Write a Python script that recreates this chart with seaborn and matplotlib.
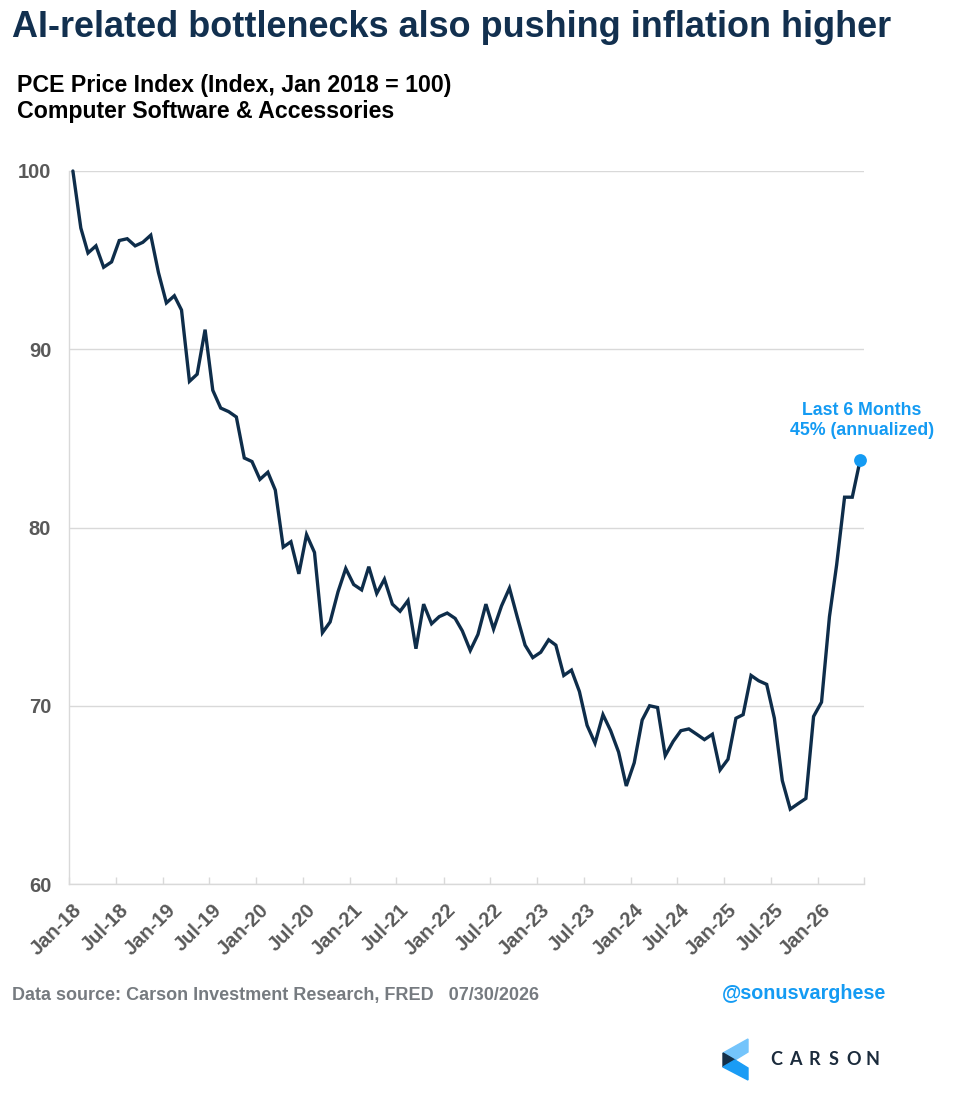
import numpy as np
import pandas as pd
import seaborn as sns
import matplotlib.pyplot as plt
from matplotlib.patches import Polygon
from matplotlib.transforms import ScaledTranslation

# PCE price index, computer software & accessories (Jan 2018 = 100), monthly
pce_index = [
    100.0, 96.8, 95.4, 95.8, 94.6, 94.9, 96.1, 96.2, 95.8, 96.0, 96.4, 94.3,  # 2018
    92.6, 93.0, 92.2, 88.2, 88.6, 91.1, 87.7, 86.7, 86.5, 86.2, 83.9, 83.7,   # 2019
    82.7, 83.1, 82.1, 78.9, 79.2, 77.4, 79.6, 78.6, 74.1, 74.7, 76.4, 77.7,   # 2020
    76.8, 76.5, 77.8, 76.3, 77.1, 75.7, 75.3, 75.9, 73.2, 75.7, 74.6, 75.0,   # 2021
    75.2, 74.9, 74.2, 73.1, 74.0, 75.7, 74.3, 75.6, 76.6, 75.0, 73.4, 72.7,   # 2022
    73.0, 73.7, 73.4, 71.7, 72.0, 70.8, 68.9, 67.9, 69.5, 68.6, 67.4, 65.5,   # 2023
    66.8, 69.2, 70.0, 69.9, 67.2, 68.0, 68.6, 68.7, 68.4, 68.1, 68.4, 66.4,   # 2024
    67.0, 69.3, 69.5, 71.7, 71.4, 71.2, 69.3, 65.8, 64.2, 64.5, 64.8, 69.4,   # 2025
    70.2, 75.0, 77.9, 81.7, 81.7, 83.8,                                       # 2026
]
start_month = "2018-01-01"

tick_labels = ["Jan-18", "Jul-18", "Jan-19", "Jul-19", "Jan-20", "Jul-20",
               "Jan-21", "Jul-21", "Jan-22", "Jul-22", "Jan-23", "Jul-23",
               "Jan-24", "Jul-24", "Jan-25", "Jul-25", "Jan-26", ""]
y_ticks = [60, 70, 80, 90, 100]

title = "AI-related bottlenecks also pushing inflation higher"
subtitle_1 = "PCE Price Index (Index, Jan 2018 = 100)"
subtitle_2 = "Computer Software & Accessories"
note_text = "Last 6 Months\n45% (annualized)"
source_text = "Data source: Carson Investment Research, FRED   07/30/2026"
handle_text = "@sonusvarghese"

NAVY = "#0e2d4a"
TITLE_NAVY = "#12304f"
BLUE = "#149bf3"
GRID = "#d9d9d9"
TICK_GRAY = "#595959"

# month stamps sit mid-month on a date axis
dates = pd.date_range(start_month, periods=len(pce_index), freq="MS") + pd.Timedelta(days=14)
df = pd.DataFrame({"date": dates, "value": pce_index})
tick_dates = pd.date_range(start_month, periods=len(tick_labels), freq="6MS")

sns.set_theme(style="white")
plt.rcParams["font.family"] = ["Liberation Sans", "DejaVu Sans"]

W, H = 956, 1100
fig = plt.figure(figsize=(W / 100, H / 100), dpi=100)
ax = fig.add_axes([69.3 / W, 1 - 884 / H, (864.3 - 69.3) / W, (884 - 171) / H])

sns.lineplot(data=df, x="date", y="value", color=NAVY, linewidth=2.4, ax=ax,
             clip_on=False, solid_joinstyle="miter")
sns.scatterplot(data=df.tail(1), x="date", y="value", color=BLUE, s=85,
                edgecolor=BLUE, linewidth=0, ax=ax, clip_on=False, zorder=5)

last = df.iloc[-1]
ax.annotate(note_text, xy=(last["date"], last["value"]), xytext=(1, 15),
            textcoords="offset points", ha="center", va="bottom", color=BLUE,
            fontsize=12.8, fontweight="bold", linespacing=1.2, annotation_clip=False)

ax.set_xlim(tick_dates[0], tick_dates[-1])
ax.set_ylim(60, 100)
ax.set_xlabel("")
ax.set_ylabel("")

ax.set_yticks(y_ticks)
ax.set_yticklabels([str(v) for v in y_ticks])
ax.tick_params(axis="y", length=0, pad=13, labelsize=14.5, labelcolor=TICK_GRAY)
for lab in ax.get_yticklabels():
    lab.set_fontweight("bold")

ax.set_xticks(tick_dates)
ax.set_xticklabels(tick_labels, rotation=45, ha="right", rotation_mode="anchor")
ax.tick_params(axis="x", direction="in", length=5, width=1, color=GRID, pad=12,
               labelsize=14.5, labelcolor=TICK_GRAY, bottom=True)
shift = ScaledTranslation(3 / 100, 0, fig.dpi_scale_trans)
for lab in ax.get_xticklabels():
    lab.set_fontweight("bold")
    lab.set_transform(lab.get_transform() + shift)

ax.yaxis.grid(True, color=GRID, linewidth=1)
ax.xaxis.grid(False)
sns.despine(ax=ax, top=True, right=True)
for side in ["left", "bottom"]:
    ax.spines[side].set_color(GRID)
    ax.spines[side].set_linewidth(1)

# headings
fig.text(12 / W, 1 - 37 / H, title, fontsize=25.9, fontweight="bold", color=TITLE_NAVY,
         va="baseline", ha="left")
fig.text(17 / W, 1 - 92 / H, subtitle_1, fontsize=16.7, fontweight="bold", color="black",
         va="baseline", ha="left")
fig.text(17 / W, 1 - 118 / H, subtitle_2, fontsize=16.7, fontweight="bold", color="black",
         va="baseline", ha="left")

# footer
fig.text(12 / W, 1 - 1000 / H, source_text, fontsize=13, fontweight="bold", color="#767b80",
         va="baseline", ha="left")
fig.text(722 / W, 1 - 999 / H, handle_text, fontsize=14.2, fontweight="bold", color=BLUE,
         va="baseline", ha="left")


# Carson logo mark
def px(pts):
    return [(x / W, 1 - y / H) for x, y in pts]


fig.patches.append(Polygon(px([(723, 1053), (748, 1039), (748, 1052), (735, 1060)]),
                           closed=True, color="#74c4fb", transform=fig.transFigure))
fig.patches.append(Polygon(px([(723, 1053), (735, 1060), (723, 1067)]),
                           closed=True, color="#14304a", transform=fig.transFigure))
fig.patches.append(Polygon(px([(723, 1067), (735, 1060), (748, 1068), (748, 1080)]),
                           closed=True, color="#1a9cf5", transform=fig.transFigure))
for k, ch in enumerate("CARSON"):
    fig.text((776 + k * 19.3) / W, 1 - 1065 / H, ch, fontsize=13, color="#1b2b3c",
             ha="center", va="baseline", fontweight="bold",
             family=["Lato", "DejaVu Sans"])

fig.savefig("out.png", dpi=100)
